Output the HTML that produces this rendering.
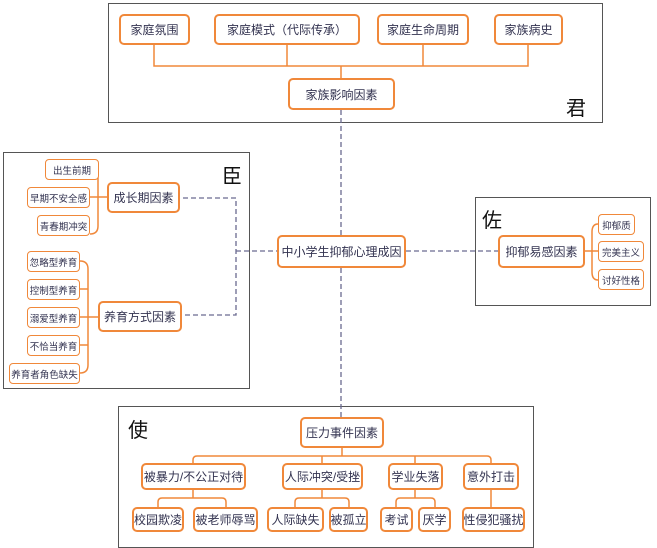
<!DOCTYPE html><html><head><meta charset="utf-8"><style>
body{margin:0;width:657px;height:548px;background:#fff;position:relative;font-family:"Liberation Sans","Noto Sans CJK SC",sans-serif;overflow:hidden}
.f{position:absolute;border:1.5px solid #555;box-sizing:border-box}
.n{position:absolute;border:2px solid #f0883a;border-radius:5px;box-sizing:border-box;background:#fff;color:#333350;display:flex;align-items:center;justify-content:center;font-size:12px;white-space:nowrap}
.s{font-size:9.5px;border-width:1.5px;border-radius:4px}
.t{position:absolute;font-size:20px;color:#111}
svg{position:absolute;left:0;top:0}
</style></head><body>
<div class="f" style="left:108px;top:3px;width:495px;height:120px"></div>
<div class="f" style="left:3px;top:152px;width:247px;height:237px"></div>
<div class="f" style="left:475px;top:197px;width:176px;height:109px"></div>
<div class="f" style="left:118px;top:406px;width:416px;height:142px"></div>
<svg width="657" height="548" fill="none">
<g stroke="#f0883a" stroke-width="1.5">
<path d="M154 44V66H528V44M287 44V66M423 44V66M341 66V78"/>
<path d="M90 170Q98 170 98 178V226Q98 234 90 234M90 197H107"/>
<path d="M80 261Q88 261 88 269V365Q88 373 80 373M80 289H88M80 317H98M80 345H88"/>
<path d="M585 251H592M598 224Q592 224 592 232V272Q592 280 598 280M592 251H598"/>
<path d="M342 448V456M193 463V460Q193 456 197 456H487Q491 456 491 460V463M322 456V463M415 456V463"/>
<path d="M193 489V498M158 507V502Q158 498 162 498H222Q226 498 226 502V507M322 489V498M295 507V502Q295 498 299 498H345Q349 498 349 502V507M415 489V498M396 507V502Q396 498 400 498H431Q435 498 435 502V507M491 489V507"/>
</g>
<g stroke="#6a6a90" stroke-width="1.3" stroke-dasharray="5 3">
<path d="M341 110V235M341 268V417M183 198H236V315H185M236 251H277M406 251H498"/>
</g>
</svg>
<div class="n" style="left:119px;top:14px;width:71px;height:31px">家庭氛围</div>
<div class="n" style="left:214px;top:14px;width:146px;height:31px">家庭模式（代际传承）</div>
<div class="n" style="left:377px;top:14px;width:92px;height:31px">家庭生命周期</div>
<div class="n" style="left:494px;top:14px;width:69px;height:31px">家族病史</div>
<div class="n" style="left:288px;top:78px;width:107px;height:32px">家族影响因素</div>
<div class="t" style="left:566px;top:92px">君</div>
<div class="t" style="left:222px;top:160px">臣</div>
<div class="t" style="left:482px;top:204px">佐</div>
<div class="t" style="left:128px;top:414px">使</div>
<div class="n" style="left:277px;top:235px;width:129px;height:33px">中小学生抑郁心理成因</div>
<div class="n" style="left:107px;top:182px;width:73px;height:31px">成长期因素</div>
<div class="n s" style="left:45px;top:159px;width:54px;height:21px">出生前期</div>
<div class="n s" style="left:27px;top:187px;width:63px;height:21px">早期不安全感</div>
<div class="n s" style="left:37px;top:215px;width:53px;height:21px">青春期冲突</div>
<div class="n" style="left:98px;top:301px;width:84px;height:31px">养育方式因素</div>
<div class="n s" style="left:27px;top:251px;width:53px;height:21px">忽略型养育</div>
<div class="n s" style="left:27px;top:279px;width:53px;height:21px">控制型养育</div>
<div class="n s" style="left:27px;top:307px;width:53px;height:21px">溺爱型养育</div>
<div class="n s" style="left:27px;top:335px;width:53px;height:21px">不恰当养育</div>
<div class="n s" style="left:9px;top:363px;width:71px;height:21px">养育者角色缺失</div>
<div class="n" style="left:498px;top:235px;width:87px;height:33px">抑郁易感因素</div>
<div class="n s" style="left:598px;top:214px;width:37px;height:21px">抑郁质</div>
<div class="n s" style="left:598px;top:241px;width:46px;height:21px">完美主义</div>
<div class="n s" style="left:598px;top:269px;width:46px;height:21px">讨好性格</div>
<div class="n" style="left:300px;top:417px;width:84px;height:31px">压力事件因素</div>
<div class="n" style="left:141px;top:463px;width:105px;height:27px">被暴力/不公正对待</div>
<div class="n" style="left:282px;top:463px;width:81px;height:27px">人际冲突/受挫</div>
<div class="n" style="left:388px;top:463px;width:55px;height:27px">学业失落</div>
<div class="n" style="left:463px;top:463px;width:56px;height:27px">意外打击</div>
<div class="n" style="left:132px;top:507px;width:52px;height:25px">校园欺凌</div>
<div class="n" style="left:193px;top:507px;width:65px;height:25px">被老师辱骂</div>
<div class="n" style="left:267px;top:507px;width:57px;height:25px">人际缺失</div>
<div class="n" style="left:329px;top:507px;width:39px;height:25px">被孤立</div>
<div class="n" style="left:380px;top:507px;width:33px;height:25px">考试</div>
<div class="n" style="left:418px;top:507px;width:33px;height:25px">厌学</div>
<div class="n" style="left:462px;top:507px;width:63px;height:25px">性侵犯骚扰</div>
</body></html>
